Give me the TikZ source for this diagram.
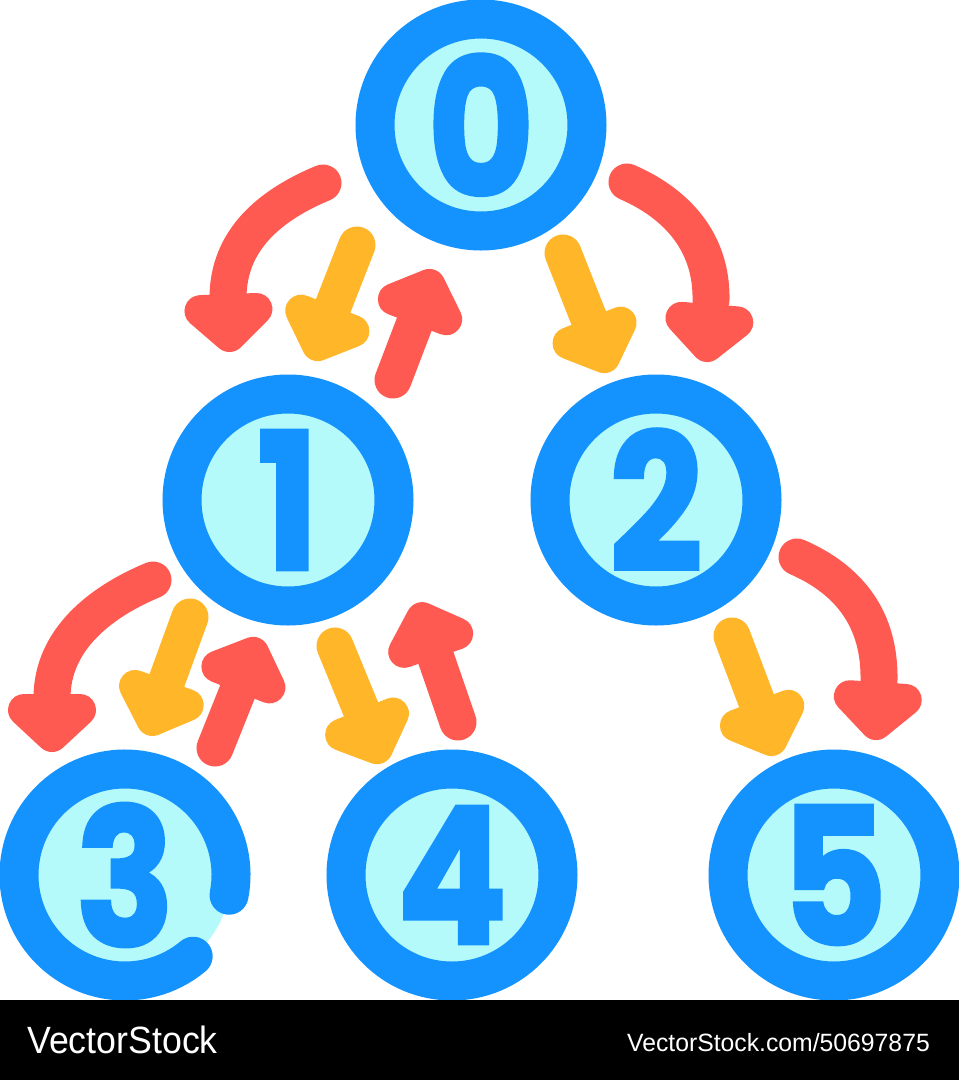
\documentclass[tikz,border=0pt]{standalone}
\usepackage{fontspec}
\setmainfont{Liberation Sans}
\newfontfamily\digitfont{Poppins}[BoldFeatures={FakeBold=2}]
\usetikzlibrary{calc}
\definecolor{ringblue}{HTML}{1493FF}
\definecolor{innercyan}{HTML}{B4FAFB}
\definecolor{arrred}{HTML}{FF5A52}
\definecolor{arrorange}{HTML}{FFB629}
\tikzset{
  vnode/.style={circle, minimum size=212pt, inner sep=0pt, fill=innercyan,
    draw=ringblue, line width=39pt, text=ringblue,
    font=\digitfont\bfseries\fontsize{190}{190}\selectfont},
  shaft/.style={line width=37pt, line cap=round},
  headst/.style={line width=32pt, line join=round},
}
\newcommand\digit[1]{\scalebox{0.86}[1]{#1}}
\newcommand\arrowhead[3]{%
  \coordinate (#2-b) at ($(#2)!42pt!(#3)$);
  \coordinate (#2-a) at ($(#2)!16pt!(#3)$);
  \filldraw[#1, headst] (#2-a) -- ($(#2-b)!28pt!90:(#2)$) -- ($(#2-b)!28pt!-90:(#2)$) -- cycle;}
\newcommand\sarrow[4]{%
  \coordinate (#2t) at (#3);
  \coordinate (#2p) at (#4);
  \draw[#1, shaft] (#2t) -- ($(#2p)!42pt!(#2t)$);
  \arrowhead{#1}{#2p}{#2t}}
\begin{document}
\begin{tikzpicture}[x=1pt,y=-1pt]
\useasboundingbox (0,0) rectangle (959,1080);
\fill[white] (0,0) rectangle (959,1080);
% nodes
\node[vnode] (n0) at (481,125) {\digit{0}};
\node[vnode] (n1) at (288,500) {\digit{1}};
\node[vnode] (n2) at (656,500) {\digit{2}};
\node[vnode, draw=none] (n3) at (125,875) {\digit{3}};
\draw[ringblue, line width=39pt, line cap=round] ($(n3.center)+(-11:106pt)$) arc[start angle=-11, end angle=310, radius=106pt];
\node[vnode] (n4) at (452,875) {\digit{4}};
\node[vnode] (n5) at (834,875) {\digit{5}};
% curved red arrows
\coordinate (a1t) at (323,183); \coordinate (a1e) at (228,298); \coordinate (a1p) at (230,352);
\draw[arrred, shaft] (a1t) .. controls (270,205) and (228,240) .. (a1e);
\arrowhead{arrred}{a1p}{a1e}
\coordinate (a5t) at (627,182); \coordinate (a5e) at (711,300); \coordinate (a5p) at (706,362);
\draw[arrred, shaft] (a5t) .. controls (680,205) and (712,245) .. (a5e);
\arrowhead{arrred}{a5p}{a5e}
\coordinate (a6t) at (153,580); \coordinate (a6e) at (52,698); \coordinate (a6p) at (52,752);
\draw[arrred, shaft] (a6t) .. controls (100,602) and (52,640) .. (a6e);
\arrowhead{arrred}{a6p}{a6e}
\coordinate (a12t) at (797,557); \coordinate (a12e) at (879,680); \coordinate (a12p) at (875,740);
\draw[arrred, shaft] (a12t) .. controls (850,580) and (880,620) .. (a12e);
\arrowhead{arrred}{a12p}{a12e}
% straight arrows
\sarrow{arrorange}{a2}{357,245}{312,360}
\sarrow{arrred}{a3}{393,380}{435,270}
\sarrow{arrorange}{a4}{563,253}{610,372}
\sarrow{arrorange}{a7}{190,617}{147,735}
\sarrow{arrred}{a8}{215,748}{259,638}
\sarrow{arrorange}{a9}{335,646}{383,763}
\sarrow{arrred}{a10}{458,722}{417,603}
\sarrow{arrorange}{a11}{732,636}{777,755}
% bottom bar
\fill[black] (0,1000) rectangle (959,1080);
\node[anchor=base west, text=white, inner sep=0pt, xscale=0.94, font=\fontsize{38}{38}\selectfont] (wm1) at (27,1053) {VectorStock};
\node[anchor=base east, text=white, inner sep=0pt, xscale=0.99, font=\fontsize{25}{25}\selectfont] (wm2) at (930,1051) {VectorStock.com/50697875};
\end{tikzpicture}
\end{document}
